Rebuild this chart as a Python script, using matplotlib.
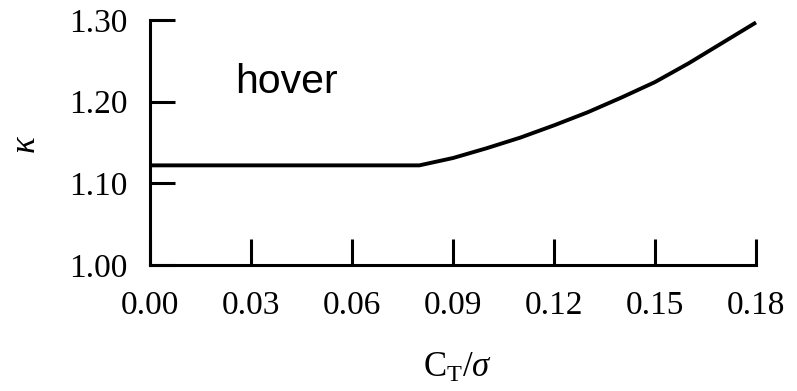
import matplotlib
matplotlib.use("Agg")
import matplotlib.pyplot as plt

# Data
ct_sigma = [0.00, 0.03, 0.06, 0.08, 0.09, 0.10, 0.11, 0.12, 0.13, 0.14, 0.15, 0.16, 0.17, 0.18]
kappa = [1.122, 1.122, 1.122, 1.122, 1.131, 1.143, 1.156, 1.171, 1.187, 1.205, 1.224, 1.247, 1.272, 1.297]
xticks = [0.00, 0.03, 0.06, 0.09, 0.12, 0.15, 0.18]
xticklabels = ["0.00", "0.03", "0.06", "0.09", "0.12", "0.15", "0.18"]
yticks = [1.00, 1.10, 1.20, 1.30]
yticklabels = ["1.00", "1.10", "1.20", "1.30"]

plt.rcParams['mathtext.fontset'] = 'custom'
plt.rcParams['mathtext.rm'] = 'Liberation Serif'
plt.rcParams['mathtext.it'] = 'Liberation Serif:italic'
plt.rcParams['font.family'] = ['Liberation Serif', 'DejaVu Serif']

fig = plt.figure(figsize=(7.97, 3.91), dpi=100)
ax = fig.add_axes([150/797, 126/391, (756-150)/797, (265-20)/391])

ax.plot(ct_sigma, kappa, color='black', lw=2.8, clip_on=False, solid_capstyle='butt')

ax.set_xlim(0, 0.18)
ax.set_ylim(1.0, 1.30)
for s in ['top', 'right']:
    ax.spines[s].set_visible(False)
for s in ['left', 'bottom']:
    ax.spines[s].set_linewidth(2.2)

ax.set_xticks(xticks)
ax.set_xticklabels(xticklabels)
ax.set_yticks(yticks)
ax.set_yticklabels(yticklabels)
ax.tick_params(axis='x', direction='in', length=19, width=2.2, pad=18, labelsize=24)
ax.tick_params(axis='y', direction='in', length=18, width=2.2, pad=16, labelsize=24)

ax.text(0.0253, 1.2106, 'hover', family='Liberation Sans', fontsize=29.5,
        va='baseline', ha='left')

ax.set_xlabel(r'C$_{\mathrm{T}}$/$\sigma$', fontsize=25)
ax.set_ylabel(r'$\kappa$', fontsize=25)
ax.xaxis.set_label_coords(0.508, -0.355)
ax.yaxis.set_label_coords(-0.176, 0.49)

fig.savefig('out.png', dpi=100)
